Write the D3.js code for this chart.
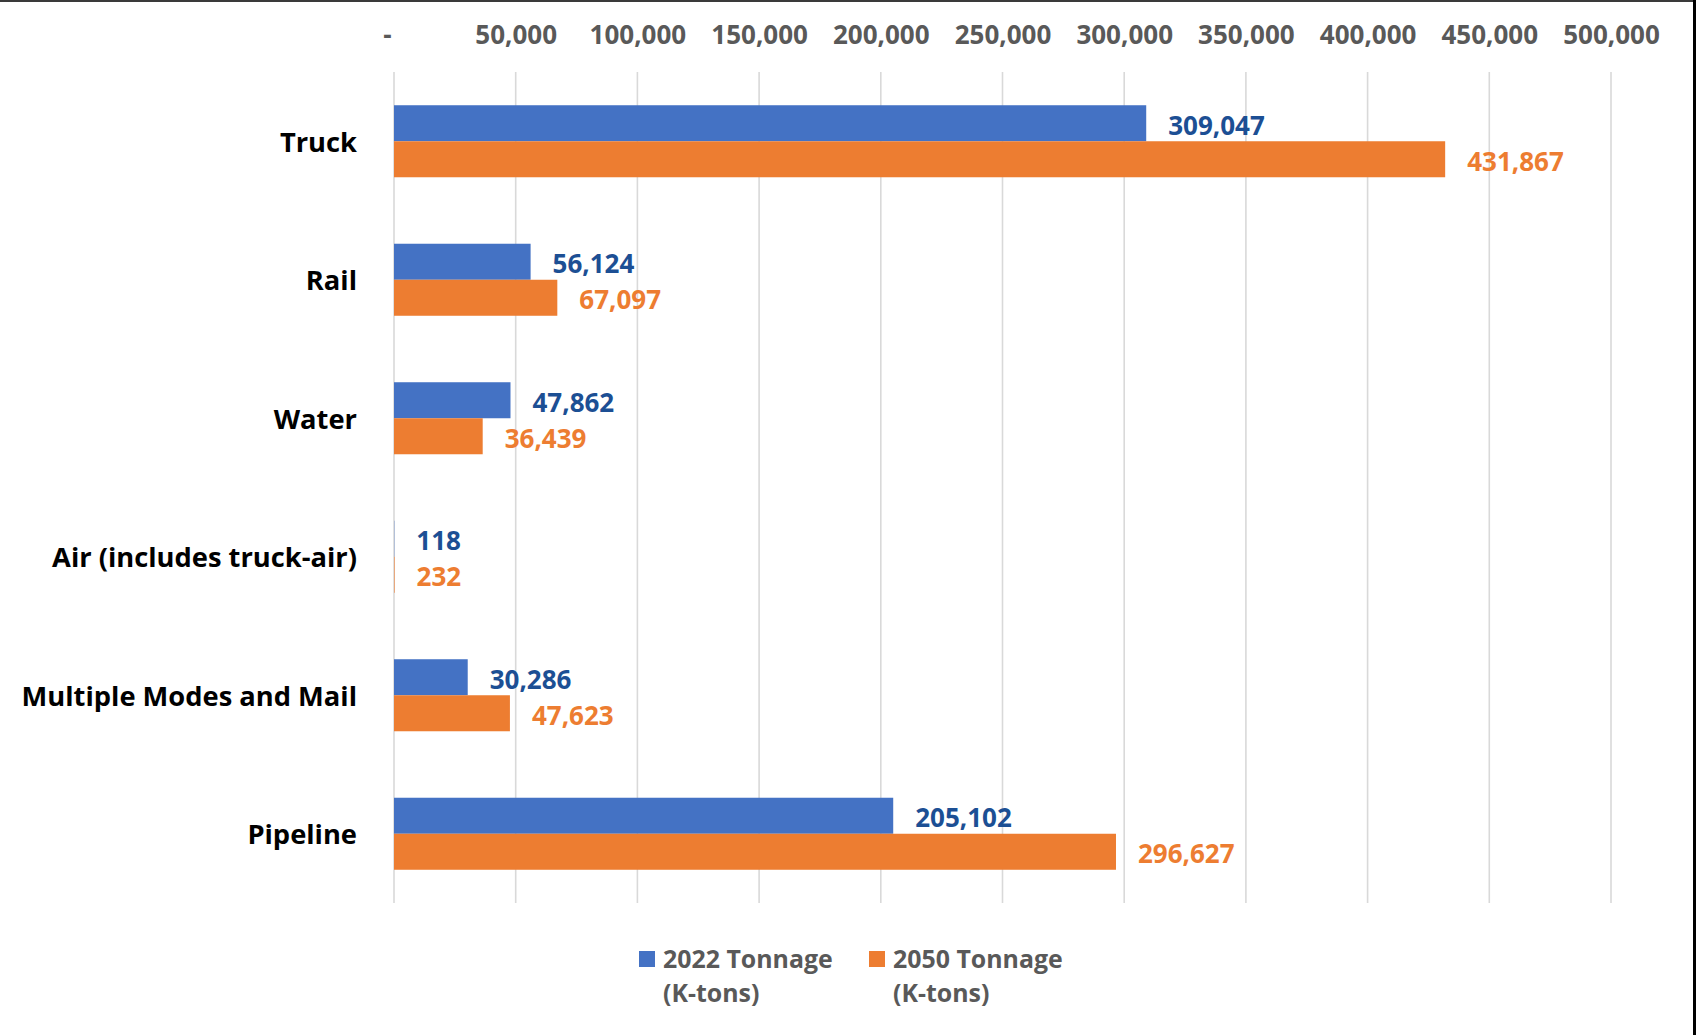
<!DOCTYPE html>
<html>
<head>
<meta charset="utf-8">
<script src="https://cdn.jsdelivr.net/npm/d3@7"></script>
<style>
  html, body { margin: 0; padding: 0; background: #fff; }
  svg { display: block; }
  text { font-family: "Open Sans", "Noto Sans", sans-serif; font-weight: 700; }
</style>
</head>
<body>
<svg id="chart" width="1696" height="1035"></svg>
<script>
// Freight tonnage by mode, thousands of tons
const modes = ["Truck", "Rail", "Water", "Air (includes truck-air)", "Multiple Modes and Mail", "Pipeline"];
const tonnage2022 = [309047, 56124, 47862, 118, 30286, 205102];
const tonnage2050 = [431867, 67097, 36439, 232, 47623, 296627];
const seriesNames = [["2022 Tonnage", "(K-tons)"], ["2050 Tonnage", "(K-tons)"]];
const tickValues = [0, 50000, 100000, 150000, 200000, 250000, 300000, 350000, 400000, 450000, 500000];

const barColors = ["#4472C4", "#ED7D31"];
const labelColors = ["#1c4f94", "#ED7D31"];
const FONT = 26;
const CAT_FONT = 27.3;
const LEGEND_FONT = 24.9;

const svg = d3.select("#chart");
const W = 1696, H = 1035;

const series = [tonnage2022, tonnage2050];
const rows = modes.map((m, i) => ({ mode: m, values: series.map(s => s[i]) }));

const x = d3.scaleLinear().domain([0, 500000]).range([394, 1611]);
const y = d3.scaleBand().domain(modes).range([72, 903]).paddingInner(0.48).paddingOuter(0.24);
const ySub = d3.scaleBand().domain([0, 1]).range([0, y.bandwidth()]);

const fmt = d3.format(",");

// vertical gridlines
svg.append("g")
  .selectAll("line")
  .data(tickValues)
  .join("line")
  .attr("x1", d => x(d)).attr("x2", d => x(d))
  .attr("y1", 72).attr("y2", 903)
  .attr("stroke", "#d9d9d9")
  .attr("stroke-width", 1.6);

// top axis tick labels (accounting style: zero shown as a dash)
const axis = d3.axisTop(x)
  .tickValues(tickValues)
  .tickSize(0)
  .tickPadding(0)
  .tickFormat(d => d === 0 ? "-" : fmt(d));
const axisG = svg.append("g").attr("transform", "translate(0,44)").call(axis);
axisG.select(".domain").remove();
axisG.selectAll("text")
  .attr("fill", "#595959")
  .style("font-size", FONT + "px")
  .style("font-family", "'Open Sans', 'Noto Sans', sans-serif")
  .style("font-weight", 700)
  .attr("dx", d => d === 0 ? -7 : 0)
  .attr("dy", "0");

// category labels
svg.append("g")
  .selectAll("text")
  .data(modes)
  .join("text")
  .attr("x", 357)
  .attr("y", d => y(d) + y.bandwidth() / 2)
  .attr("text-anchor", "end")
  .attr("dominant-baseline", "central")
  .attr("fill", "#000")
  .style("font-size", CAT_FONT + "px")
  .text(d => d);

// bars and value labels
const groups = svg.append("g")
  .selectAll("g")
  .data(rows)
  .join("g")
  .attr("transform", d => `translate(0,${y(d.mode)})`);

groups.selectAll("rect")
  .data(d => d.values.map((v, k) => ({ v, k })))
  .join("rect")
  .attr("x", x(0))
  .attr("y", d => ySub(d.k))
  .attr("width", d => x(d.v) - x(0))
  .attr("height", ySub.bandwidth())
  .attr("fill", d => barColors[d.k]);

groups.selectAll("text")
  .data(d => d.values.map((v, k) => ({ v, k })))
  .join("text")
  .attr("x", d => x(d.v) + 22)
  .attr("y", d => ySub(d.k) + ySub.bandwidth() / 2 + 1.5)
  .attr("dominant-baseline", "central")
  .attr("fill", d => labelColors[d.k])
  .style("font-size", FONT + "px")
  .text(d => fmt(d.v));

// legend
const legendX = [639, 869];
const legend = svg.append("g")
  .selectAll("g")
  .data(seriesNames)
  .join("g")
  .attr("transform", (d, i) => `translate(${legendX[i]},0)`);
legend.append("rect")
  .attr("x", 0).attr("y", 951)
  .attr("width", 16).attr("height", 16)
  .attr("fill", (d, i) => barColors[i]);
legend.append("text")
  .attr("fill", "#595959")
  .style("font-size", LEGEND_FONT + "px")
  .selectAll("tspan")
  .data(d => d)
  .join("tspan")
  .attr("x", 24)
  .attr("y", (d, j) => 968 + j * 34)
  .text(d => d);

// frame edges
svg.append("line").attr("x1", 0).attr("x2", W).attr("y1", 1).attr("y2", 1)
  .attr("stroke", "#3a3a3a").attr("stroke-width", 2);
svg.append("line").attr("x1", W - 1.5).attr("x2", W - 1.5).attr("y1", 0).attr("y2", H)
  .attr("stroke", "#000").attr("stroke-width", 3);
</script>
</body>
</html>
